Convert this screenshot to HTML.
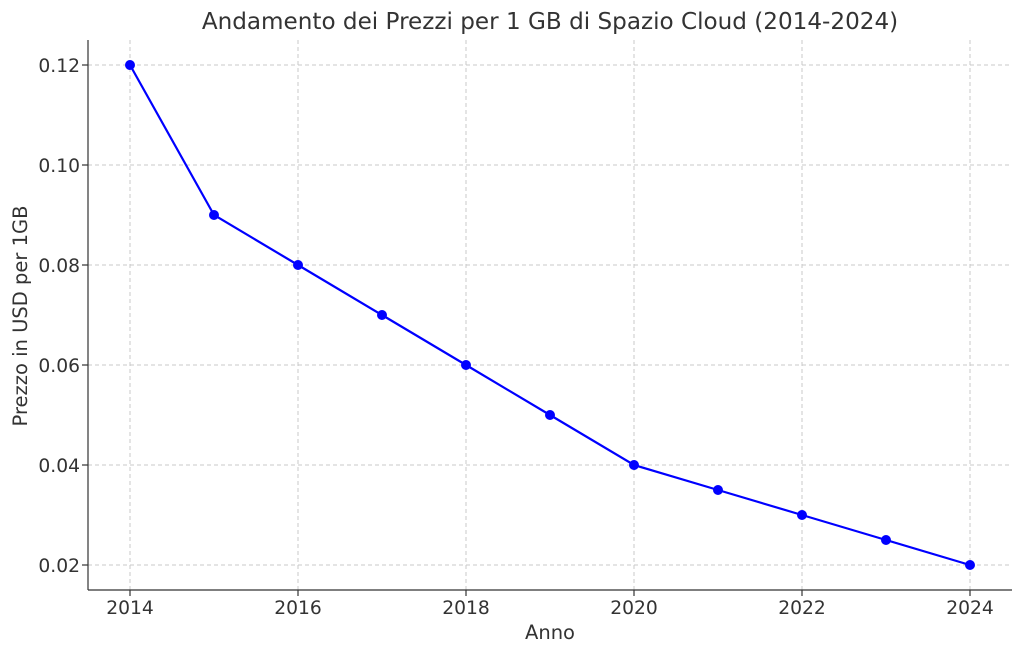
<!DOCTYPE html>
<html><head><meta charset="utf-8"><style>body{margin:0;background:#fff}svg{display:block}text{font-family:"DejaVu Sans","Liberation Sans",sans-serif;fill:#333}</style></head>
<body>
<svg width="1024" height="654" viewBox="0 0 1024 654" xmlns="http://www.w3.org/2000/svg">
<g stroke="#c8c8c8" stroke-width="1" stroke-dasharray="4,3">
<line x1="130" y1="40" x2="130" y2="590"/><line x1="298" y1="40" x2="298" y2="590"/><line x1="466" y1="40" x2="466" y2="590"/><line x1="634" y1="40" x2="634" y2="590"/><line x1="802" y1="40" x2="802" y2="590"/><line x1="970" y1="40" x2="970" y2="590"/>
<line x1="88" y1="65" x2="1012" y2="65"/><line x1="88" y1="165" x2="1012" y2="165"/><line x1="88" y1="265" x2="1012" y2="265"/><line x1="88" y1="365" x2="1012" y2="365"/><line x1="88" y1="465" x2="1012" y2="465"/><line x1="88" y1="565" x2="1012" y2="565"/>
</g>
<g stroke="#333" stroke-width="1.2">
<line x1="88" y1="40" x2="88" y2="590"/><line x1="88" y1="590" x2="1012" y2="590"/>
<line x1="130" y1="590" x2="130" y2="596"/><line x1="298" y1="590" x2="298" y2="596"/><line x1="466" y1="590" x2="466" y2="596"/><line x1="634" y1="590" x2="634" y2="596"/><line x1="802" y1="590" x2="802" y2="596"/><line x1="970" y1="590" x2="970" y2="596"/>
<line x1="82" y1="65" x2="88" y2="65"/><line x1="82" y1="165" x2="88" y2="165"/><line x1="82" y1="265" x2="88" y2="265"/><line x1="82" y1="365" x2="88" y2="365"/><line x1="82" y1="465" x2="88" y2="465"/><line x1="82" y1="565" x2="88" y2="565"/>
</g>
<g font-size="18.7" text-anchor="middle">
<text x="130" y="614">2014</text><text x="298" y="614">2016</text><text x="466" y="614">2018</text><text x="634" y="614">2020</text><text x="802" y="614">2022</text><text x="970" y="614">2024</text>
</g>
<g font-size="18.7" text-anchor="end">
<text x="80" y="72">0.12</text><text x="80" y="172">0.10</text><text x="80" y="272">0.08</text><text x="80" y="372">0.06</text><text x="80" y="472">0.04</text><text x="80" y="572">0.02</text>
</g>
<text x="550" y="639" font-size="19.5" text-anchor="middle">Anno</text>
<text transform="translate(27,316) rotate(-90)" font-size="19.5" text-anchor="middle">Prezzo in USD per 1GB</text>
<text x="550" y="29" font-size="23.1" text-anchor="middle">Andamento dei Prezzi per 1 GB di Spazio Cloud (2014-2024)</text>
<polyline fill="none" stroke="#0000ff" stroke-width="2.2" points="130,65 214,215 298,265 382,315 466,365 550,415 634,465 718,490 802,515 886,540 970,565"/>
<g fill="#0000ff">
<circle cx="130" cy="65" r="5"/><circle cx="214" cy="215" r="5"/><circle cx="298" cy="265" r="5"/><circle cx="382" cy="315" r="5"/><circle cx="466" cy="365" r="5"/><circle cx="550" cy="415" r="5"/><circle cx="634" cy="465" r="5"/><circle cx="718" cy="490" r="5"/><circle cx="802" cy="515" r="5"/><circle cx="886" cy="540" r="5"/><circle cx="970" cy="565" r="5"/>
</g>
</svg>
</body></html>
